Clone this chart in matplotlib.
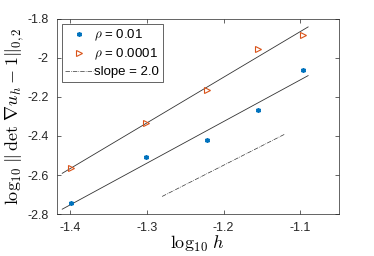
"""Convergence plot - log10 ||det grad u_h - 1|| vs log10 h"""
import matplotlib
matplotlib.use('Agg')
import matplotlib.pyplot as plt
import numpy as np

# data
log_h = [-1.398, -1.301, -1.222, -1.155, -1.097]
err_rho_001 = [-2.745, -2.51, -2.42, -2.265, -2.06]
err_rho_00001 = [-2.565, -2.335, -2.165, -1.955, -1.88]
slope_x = [-1.28, -1.12]
slope_y = [-2.71, -2.39]
xticks = [-1.4, -1.3, -1.2, -1.1]
yticks = [-2.8, -2.6, -2.4, -2.2, -2.0, -1.8]
ytick_labels = ['-2.8', '-2.6', '-2.4', '-2.2', '-2', '-1.8']

plt.rcParams['font.family'] = ['Liberation Sans', 'DejaVu Sans']
plt.rcParams['mathtext.fontset'] = 'cm'

fig = plt.figure(figsize=(3.74, 2.56), dpi=100)
ax = fig.add_axes([0.152, 0.164, 0.754, 0.762])

blue = '#0072BD'
orange = '#D95319'

# fit lines over a slightly wider range
xfit = np.array([-1.41, -1.09])
for ys in (err_rho_001, err_rho_00001):
    p = np.polyfit(log_h, ys, 1)
    ax.plot(xfit, np.polyval(p, xfit), color='#333333', linewidth=0.6)

ax.plot(log_h, err_rho_001, linestyle='none', marker=(6, 2, 0), color=blue,
        markersize=3.5, markeredgewidth=1.1, label=r'$\rho$ = 0.01')
ax.plot(log_h, err_rho_00001, linestyle='none', marker='>', color=orange,
        markerfacecolor='none', markersize=4.5, markeredgewidth=0.8,
        label=r'$\rho$ = 0.0001')
ax.plot(slope_x, slope_y, color='#333333', linestyle='-.', linewidth=0.5,
        label='slope = 2.0')

ax.set_xlim(-1.417, -1.05)
ax.set_ylim(-2.8, -1.8)
ax.set_xticks(xticks)
ax.set_xticklabels([f'{t:g}' for t in xticks])
ax.set_yticks(yticks)
ax.set_yticklabels(ytick_labels)
ax.tick_params(axis='both', direction='in', top=True, right=True, labelsize=9,
               colors='#262626', length=3, width=0.5)
ax.tick_params(axis='y', pad=6)
ax.tick_params(axis='x', pad=6)
for s in ax.spines.values():
    s.set_linewidth(0.5)
    s.set_color('#262626')

ax.set_xlabel(r'$\log_{10}\, h$', fontsize=13, labelpad=0)
ax.set_ylabel(r'$\log_{10}\, \|\, \det\, \nabla u_h - 1\|_{0,2}$', fontsize=13,
              labelpad=1)

leg = ax.legend(loc='upper left', fontsize=9.5, fancybox=False, framealpha=1,
                edgecolor='#262626', handlelength=2.1, borderpad=0.25,
                labelspacing=0.3, handletextpad=0.1, borderaxespad=0.4)
leg.get_frame().set_linewidth(0.5)

plt.savefig('out.png', dpi=100)
plt.close()
